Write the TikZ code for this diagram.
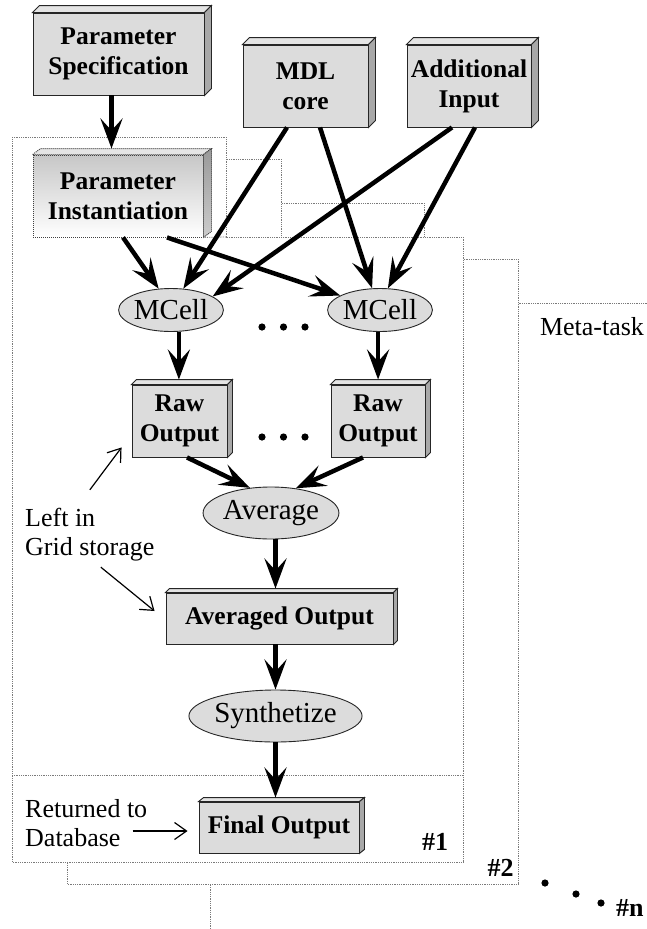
\documentclass[tikz,border=0pt]{standalone}
\usepackage{fontspec}
\setmainfont{Liberation Serif}
\usetikzlibrary{arrows.meta,calc,shapes.geometric}
\definecolor{boxgray}{HTML}{DCDCDC}
\definecolor{topgray}{HTML}{E4E4E4}
\definecolor{sidegray}{HTML}{A8A8A8}
\definecolor{framegray}{HTML}{7A7A7A}
\newcommand\mkdepth[3]{%
  \filldraw[topface] (#1.north west) -- ++(#2pt,#3pt) -- ($(#1.north east)+(#2pt,#3pt)$) -- (#1.north east) -- cycle;
  \filldraw[sideface] (#1.north east) -- ++(#2pt,#3pt) -- ($(#1.south east)+(#2pt,#3pt)$) -- (#1.south east) -- cycle;
}
\begin{document}
\begin{tikzpicture}[x=1pt,y=-1pt,
  solidbox/.style={draw=black!85, line width=0.9pt, fill=boxgray, inner sep=0pt, align=center,
    font=\fontsize{25.5}{30}\selectfont\bfseries},
  fadebox/.style={draw=black!75, line width=0.9pt, dash pattern=on 1pt off 1pt, top color=black!22, bottom color=white,
    inner sep=0pt, align=center, font=\fontsize{25.5}{30}\selectfont\bfseries},
  topface/.style={fill=topgray, draw=black!85, line width=0.9pt},
  sideface/.style={fill=sidegray, draw=black!85, line width=0.9pt},
  ell/.style={ellipse, draw=black!85, line width=0.9pt, fill=boxgray, inner sep=0pt,
    font=\fontsize{29}{30}\selectfont},
  lbl/.style={inner sep=0pt, align=left, font=\fontsize{26}{29}\selectfont},
  numlbl/.style={inner sep=0pt, font=\fontsize{26}{29}\selectfont\bfseries},
  sheet/.style={fill=white, draw=framegray, line width=0.8pt, dash pattern=on 0.9pt off 0.9pt},
  sheetline/.style={draw=framegray, line width=0.8pt, dash pattern=on 0.9pt off 0.9pt},
  big/.style={line width=4.5pt, -{Stealth[length=30pt,width=22pt,inset=12pt]}},
  thinarrow/.style={line width=1.2pt, -{Straight Barb[length=12pt,width=17pt]}},
  dot/.style={fill=black}
]
\useasboundingbox (0,0) rectangle (647,929);
\clip (0,0) rectangle (647,929);

% stacked meta-task sheets (back to front)
\filldraw[sheet] (210,203) -- (424,203) -- (424,303) -- (680,303) -- (680,960) -- (210,960) -- cycle;
\filldraw[sheet] (67,159) -- (281,159) -- (281,259) -- (518,259) -- (518,884) -- (67,884) -- cycle;
\filldraw[sheet] (12,137) -- (226,137) -- (226,237) -- (463,237) -- (463,862) -- (12,862) -- cycle;
\draw[sheetline] (12,775) -- (463,775);

\node[lbl, anchor=center] (meta) at (592,327) {Meta-task};

% boxes
\node[solidbox, minimum width=171pt, minimum height=82pt] (pspec) at (118.5,54) {Parameter\\Specification};
\mkdepth{pspec}{7}{7}
\node[solidbox, minimum width=125pt, minimum height=82pt] (mdl) at (305.5,86) {MDL\\core};
\mkdepth{mdl}{7}{7}
\node[solidbox, minimum width=124pt, minimum height=82pt] (addin) at (469,86) {Additional\\Input};
\mkdepth{addin}{7}{7}
\node[fadebox, minimum width=170pt, minimum height=82pt] (pinst) at (118,196) {Parameter\\Instantiation};
\filldraw[draw=black!75, line width=0.9pt, dash pattern=on 1pt off 1pt, fill=black!10]
  (pinst.north west) -- ++(8pt,6pt) -- ($(pinst.north east)+(8pt,6pt)$) -- (pinst.north east) -- cycle;
\filldraw[draw=black!75, line width=0.9pt, dash pattern=on 1pt off 1pt, top color=black!40, bottom color=black!20]
  (pinst.north east) -- ++(8pt,6pt) -- ($(pinst.south east)+(8pt,6pt)$) -- (pinst.south east) -- cycle;
\draw[sheetline] (pinst.south east) -- (226,237);

\node[ell, minimum width=98pt, minimum height=43pt] (mcellL) at (171,310) {MCell};
\node[ell, minimum width=100pt, minimum height=43pt] (mcellR) at (380,310) {MCell};

\node[solidbox, minimum width=95pt, minimum height=72pt] (rawL) at (179.5,421) {Raw\\Output};
\mkdepth{rawL}{5}{5}
\node[solidbox, minimum width=94pt, minimum height=72pt] (rawR) at (378,421) {Raw\\Output};
\mkdepth{rawR}{5}{5}

\node[ell, minimum width=123pt, minimum height=52pt] (avg) at (271,513) {Average};
\node[solidbox, minimum width=227pt, minimum height=51pt] (avgout) at (279.5,618.5) {Averaged Output};
\mkdepth{avgout}{4}{4}
\node[ell, minimum width=155pt, minimum height=52pt] (synth) at (275.5,716) {Synthetize};
\node[solidbox, minimum width=160pt, minimum height=51pt] (finout) at (279,827.5) {Final Output};
\mkdepth{finout}{5}{4}

% ellipsis dots
\foreach \x in {262,283.5,305}{
  \fill[dot] (\x,327) circle (3.6pt);
  \fill[dot] (\x,437) circle (3.6pt);
}
\fill[dot] (545,883) circle (3.6pt);
\fill[dot] (576,894) circle (3.6pt);
\fill[dot] (601,903) circle (3.6pt);

% labels
\node[lbl, anchor=west] (leftin) at (25,534.5) {Left in\\Grid storage};
\node[lbl, anchor=west] (retdb) at (25,822.6) {Returned to\\Database};
\node[numlbl] (n1) at (435,842) {\#1};
\node[numlbl] (n2) at (500.5,868) {\#2};
\node[numlbl, anchor=west] (nn) at (616,908) {\#n};

% thick arrows
\draw[big] ($(pspec.south)+(-7pt,0)$) -- ($(pspec.south |- pinst.north)+(-7pt,6pt)$);
\draw[big] ($(pinst.south)+(5pt,0)$) -- (mcellL.120);
\draw[big] ($(pinst.south)+(49pt,0)$) -- (mcellR.160);
\draw[big] ($(mdl.south)+(-18.5pt,0)$) -- (mcellL.60);
\draw[big] ($(mdl.south)+(14.5pt,0)$) -- (mcellR.110);
\draw[big] ($(addin.south)+(-17pt,0)$) -- (mcellL.18);
\draw[big] ($(addin.south)+(6pt,0)$) -- (mcellR.70);
\draw[big] (mcellL.-70) -- ($(mcellL.-70 |- rawL.north)+(0,5pt)$);
\draw[big] (mcellR.-95) -- ($(mcellR.-95 |- rawR.north)+(0,5pt)$);
\draw[big] ($(rawL.south)+(7.5pt,0)$) -- (avg.130);
\draw[big] ($(rawR.south)+(-15pt,0)$) -- (avg.45);
\draw[big] (synth.north |- avg.south) -- ($(synth.north |- avgout.north)+(0,4pt)$);
\draw[big] (synth.north |- avgout.south) -- (synth.north);
\draw[big] (synth.south) -- ($(synth.south |- finout.north)+(0,4pt)$);

% thin annotation arrows
\draw[thinarrow] ($(leftin.north)+(0,18pt)$) -- ($(rawL.south west)+(-10pt,10pt)$);
\draw[thinarrow] ($(leftin.south)+(11pt,-6pt)$) -- ($(avgout.west)+(-11pt,7.5pt)$);
\draw[thinarrow] ($(finout.west)+(-66pt,-3.5pt)$) -- ($(finout.west)+(-11pt,-3.5pt)$);
\end{tikzpicture}
\end{document}
